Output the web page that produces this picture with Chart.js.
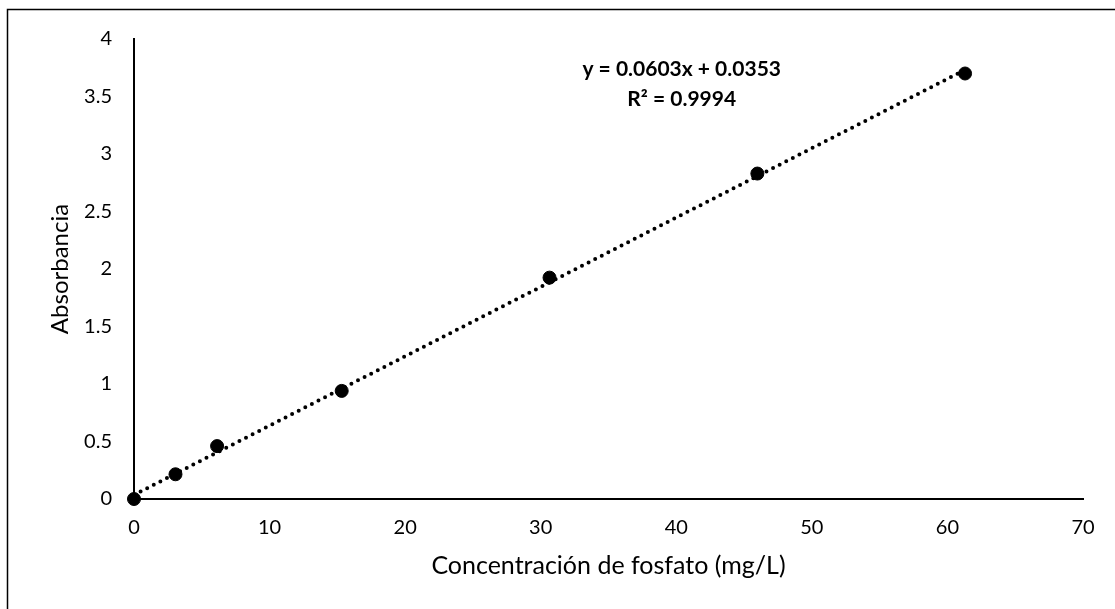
<!DOCTYPE html>
<html>
<head>
<meta charset="utf-8">
<title>Curva de calibración fosfato</title>
<script src="https://cdn.jsdelivr.net/npm/chart.js@4.4.1/dist/chart.umd.min.js"></script>
<style>
  body { margin: 0; background: #fff; }
  #wrap { width: 1115px; height: 609px; }
</style>
</head>
<body>
<div id="wrap"><canvas id="calib-chart" width="1115" height="609"></canvas></div>
<script>
// data
var concentracion = [0, 3.06, 6.13, 15.32, 30.65, 45.98, 61.3];
var absorbancia = [0, 0.215, 0.46, 0.94, 1.925, 2.83, 3.70];

// trendline as printed on the chart
var pendiente = 0.0603;
var intercepto = 0.0353;
var ecuacion = ['y = 0.0603x + 0.0353', 'R\u00b2 = 0.9994'];

var xTicks = [0, 10, 20, 30, 40, 50, 60, 70];
var yTicks = [0, 0.5, 1, 1.5, 2, 2.5, 3, 3.5, 4];

var FONT = 'Lato, "Open Sans", sans-serif';

window.onload = initialize;

function initialize() {
    renderChart();
}

function makePoints(xs, ys) {
    var pts = [];
    for (var i = 0; i < xs.length; i++) {
        pts.push({x: xs[i], y: ys[i]});
    }
    return pts;
}

function trendPoints() {
    var x0 = concentracion[0];
    var x1 = concentracion[concentracion.length - 1];
    return [
        {x: x0, y: pendiente * x0 + intercepto},
        {x: x1, y: pendiente * x1 + intercepto}
    ];
}

// outer frame + equation text
var extras = {
    id: 'extras',
    beforeDraw: function(chart) {
        var ctx = chart.ctx;
        ctx.save();
        ctx.fillStyle = '#fff';
        ctx.fillRect(0, 0, chart.width, chart.height);
        ctx.strokeStyle = '#000';
        ctx.lineWidth = 1.5;
        ctx.strokeRect(7.5, 9.5, 1300, 800);
        ctx.restore();
    },
    afterDraw: function(chart) {
        var ctx = chart.ctx;
        var xs = chart.scales.x, ys = chart.scales.y;
        var cx = xs.getPixelForValue(40.4);
        var cy = ys.getPixelForValue(3.74);
        ctx.save();
        ctx.font = 'bold 21px ' + FONT;
        ctx.fillStyle = '#000';
        ctx.textAlign = 'center';
        ctx.textBaseline = 'middle';
        ctx.fillText(ecuacion[0], cx, cy);
        ctx.fillText(ecuacion[1], cx, cy + 30);
        ctx.restore();
    }
};

function renderChart() {
    var ctx = document.getElementById('calib-chart').getContext('2d');
    var myChart = new Chart(ctx, {
        type: 'scatter',
        data: {
            datasets: [{
                type: 'line',
                data: trendPoints(),
                borderColor: '#000',
                borderWidth: 4,
                borderDash: [0, 7.4],
                borderCapStyle: 'round',
                pointRadius: 0,
                fill: false,
                order: 0
            }, {
                data: makePoints(concentracion, absorbancia),
                backgroundColor: '#000',
                borderColor: '#000',
                pointRadius: 6.5,
                pointHoverRadius: 6.5,
                clip: false,
                order: 1
            }]
        },
        options: {
            responsive: false,
            animation: false,
            devicePixelRatio: 1,
            layout: {padding: {left: 0, top: 39, right: 32, bottom: 0}},
            plugins: {legend: {display: false}, tooltip: {enabled: false}},
            scales: {
                x: {
                    type: 'linear',
                    min: 0, max: 70,
                    afterBuildTicks: function(s) { s.ticks = xTicks.map(function(v) { return {value: v}; }); },
                    afterFit: function(s) { s.height = 110; },
                    grid: {display: false, drawTicks: false},
                    border: {display: true, color: '#000', width: 2},
                    ticks: {color: '#000', padding: 17, font: {family: FONT, size: 20}},
                    title: {
                        display: true,
                        text: 'Concentración de fosfato (mg/L)',
                        color: '#000',
                        font: {family: FONT, size: 25},
                        padding: {top: 28, bottom: 28}
                    }
                },
                y: {
                    type: 'linear',
                    min: 0, max: 4,
                    afterBuildTicks: function(s) { s.ticks = yTicks.map(function(v) { return {value: v}; }); },
                    afterFit: function(s) { s.width = 134; },
                    grid: {display: false, drawTicks: false},
                    border: {display: true, color: '#000', width: 2},
                    ticks: {
                        color: '#000', padding: 22, font: {family: FONT, size: 20},
                        callback: function(v) { return String(Number(v)); }
                    },
                    title: {
                        display: true,
                        text: 'Absorbancia',
                        color: '#000',
                        font: {family: FONT, size: 24},
                        padding: {top: 46, bottom: 46}
                    }
                }
            }
        },
        plugins: [extras]
    });
}
</script>
</body>
</html>
